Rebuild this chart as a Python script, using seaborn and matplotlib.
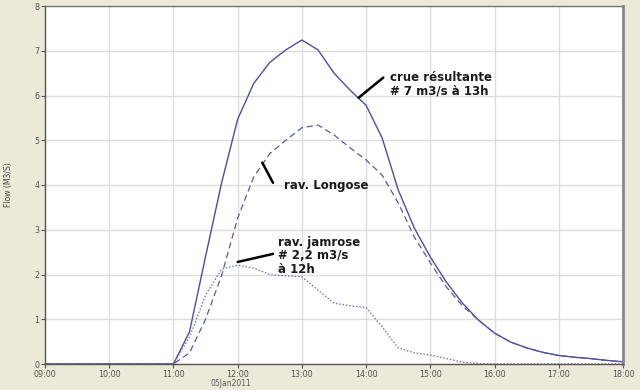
import matplotlib
matplotlib.use("Agg")
import matplotlib.pyplot as plt
import seaborn as sns
import pandas as pd

times = ["09:00", "10:00", "11:00", "11:15", "11:30", "11:45", "12:00", "12:15", "12:30",
         "12:45", "13:00", "13:15", "13:30", "13:45", "14:00", "14:15", "14:30", "14:45",
         "15:00", "15:15", "15:30", "15:45", "16:00", "16:15", "16:30", "16:45", "17:00",
         "17:15", "17:30", "17:45", "18:00"]
crue = [0, 0, 0, 0.72, 2.4, 4.05, 5.47, 6.27, 6.74, 7.02, 7.24, 7.02, 6.5, 6.12, 5.78,
        5.05, 3.89, 3.04, 2.39, 1.83, 1.36, 0.98, 0.69, 0.49, 0.36, 0.26, 0.19, 0.15,
        0.12, 0.08, 0.05]
longose = [0, 0, 0, 0.25, 1.0, 1.98, 3.26, 4.18, 4.7, 5.0, 5.28, 5.34, 5.12, 4.83, 4.56,
           4.22, 3.6, 2.84, 2.26, 1.72, 1.3, 0.98, 0.69, 0.49, 0.36, 0.26, 0.19, 0.15,
           0.12, 0.08, 0.05]
jamrose = [0, 0, 0, 0.6, 1.54, 2.12, 2.21, 2.14, 2.0, 1.97, 1.95, 1.65, 1.36, 1.3, 1.26,
           0.83, 0.36, 0.25, 0.2, 0.12, 0.04, 0.01, 0, 0, 0, 0, 0, 0, 0, 0, 0]
xtick_labels = ["09:00", "10:00", "11:00", "12:00", "13:00", "14:00", "15:00", "16:00",
                "17:00", "18:00"]
yticks = [0, 1, 2, 3, 4, 5, 6, 7, 8]

def to_h(s):
    h, m = s.split(":")
    return int(h) + int(m) / 60.0

hours = [to_h(t) for t in times]
df = pd.DataFrame({"h": hours, "crue": crue, "longose": longose, "jamrose": jamrose})

sns.set_theme(style="white")
plt.rcParams["font.family"] = ["DejaVu Sans"]

bg = "#ECE9D8"
fig = plt.figure(figsize=(6.4, 3.9), dpi=100, facecolor=bg)
ax = fig.add_axes([45 / 640, 1 - 364 / 390, (623 - 45) / 640, (364 - 6) / 390])
ax.set_facecolor("white")

lc = "#5a5aa4"
sns.lineplot(data=df, x="h", y="crue", ax=ax, color="#4e4e9c", lw=1.0)
sns.lineplot(data=df, x="h", y="longose", ax=ax, color=lc, lw=0.9)
sns.lineplot(data=df, x="h", y="jamrose", ax=ax, color="#6a6ab0", lw=0.9)
ax.lines[1].set_dashes([5, 3])
ax.lines[2].set_dashes([1.2, 1.5])

ax.set_xlim(9, 18)
ax.set_ylim(0, 8)
ax.set_xticks([to_h(t) for t in xtick_labels])
ax.set_xticklabels(xtick_labels)
ax.set_yticks(yticks)
ax.set_yticklabels([str(v) for v in yticks])
ax.grid(True, color="#dcdcdc", lw=1.0)
ax.set_axisbelow(True)
ax.tick_params(axis="both", labelsize=5.8, colors="#555555", length=3, width=0.8,
               direction="out", bottom=True, left=True, pad=1.0)
ax.set_xlabel("")
ax.set_ylabel("Flow (M3/S)", fontsize=5.5, color="#444444", labelpad=15)

for side in ["left", "bottom"]:
    ax.spines[side].set_color("#555555")
    ax.spines[side].set_linewidth(1.0)
ax.spines["top"].set_color("#777777")
ax.spines["top"].set_linewidth(1.0)
ax.spines["right"].set_color("#888888")
ax.spines["right"].set_linewidth(2.0)

fig.text(231 / 640, 1 - 384 / 390, "05Jan2011", fontsize=5.5, color="#555555",
         ha="center", va="center")

# annotations
tkw = dict(fontsize=8.5, color="#1a1a1a", ha="left", va="center", fontweight="semibold",
           linespacing=1.05)
ax.text(to_h("14:22"), 6.26, "crue résultante\n# 7 m3/s à 13h", **tkw)
ax.plot([to_h("13:53"), to_h("14:16")], [5.95, 6.4], color="black", lw=1.8)
ax.text(to_h("12:43"), 3.98, "rav. Longose", **tkw)
ax.plot([to_h("12:23"), to_h("12:33")], [4.5, 4.05], color="black", lw=1.8)
ax.text(to_h("12:38"), 2.42, "rav. jamrose\n# 2,2 m3/s\nà 12h", **tkw)
ax.plot([to_h("12:00"), to_h("12:33")], [2.28, 2.46], color="black", lw=1.8)

fig.savefig("out.png", dpi=100, facecolor=bg)
